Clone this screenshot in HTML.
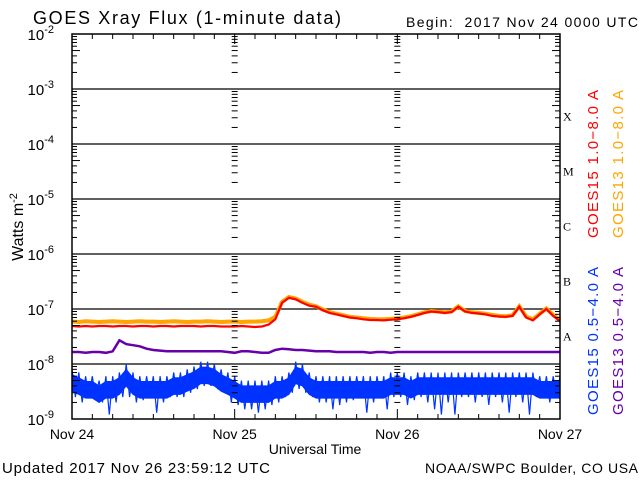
<!DOCTYPE html>
<html><head><meta charset="utf-8">
<style>
html,body{margin:0;padding:0;background:#fff;}
svg{display:block;font-family:"Liberation Sans","DejaVu Sans",sans-serif;}
</style></head>
<body>
<svg id="chart" width="640" height="480" viewBox="0 0 640 480">
<text x="33" y="24" font-size="18" textLength="308">GOES Xray Flux (1-minute data)</text>
<text x="406" y="27" font-size="14" textLength="232" xml:space="preserve">Begin:  2017 Nov 24 0000 UTC</text>
<text transform="translate(23,227) rotate(-90)" text-anchor="middle" font-size="16">Watts m<tspan dy="-6" font-size="11">-2</tspan></text>
<text x="315" y="454" text-anchor="middle" font-size="14">Universal Time</text>
<text x="2" y="473" font-size="15" textLength="268">Updated 2017 Nov 26 23:59:12 UTC</text>
<text x="638" y="473" text-anchor="end" font-size="14" textLength="213">NOAA/SWPC Boulder, CO USA</text>
<g font-size="15">
<text transform="translate(598,238) rotate(-90)" fill="#ff0000" textLength="148">GOES15 1.0−8.0 A</text>
<text transform="translate(623,238) rotate(-90)" fill="#ffa500" textLength="148">GOES13 1.0−8.0 A</text>
<text transform="translate(598,415) rotate(-90)" fill="#0033ff" textLength="148">GOES15 0.5−4.0 A</text>
<text transform="translate(623,415) rotate(-90)" fill="#6600aa" textLength="148">GOES13 0.5−4.0 A</text>
</g>
<g id="grid"></g>
<g id="series"></g>
<g id="axes"></g>
</svg>
<script>
const dayLabels = ["Nov 24","Nov 25","Nov 26","Nov 27"];
const decadeExps = [-2,-3,-4,-5,-6,-7,-8,-9];
const flareClasses = ["X","M","C","B","A"];
const flareExps = [-3.5,-4.5,-5.5,-6.5,-7.5];
// hourly values, hours 0..72
const goes15Long = [4.9e-8,4.8e-8,4.9e-8,4.8e-8,4.9e-8,4.9e-8,4.8e-8,4.9e-8,4.9e-8,4.8e-8,4.9e-8,4.9e-8,4.8e-8,4.9e-8,4.9e-8,4.8e-8,4.9e-8,4.9e-8,4.9e-8,4.8e-8,4.9e-8,4.9e-8,4.8e-8,4.8e-8,4.8e-8,4.9e-8,4.8e-8,4.7e-8,4.8e-8,5.2e-8,6.5e-8,1.3e-7,1.6e-7,1.5e-7,1.3e-7,1.15e-7,1.1e-7,9.5e-8,8.5e-8,8e-8,7.5e-8,7e-8,6.8e-8,6.5e-8,6.3e-8,6.3e-8,6.2e-8,6.4e-8,6.5e-8,6.8e-8,7.2e-8,7.8e-8,8.5e-8,9e-8,8.8e-8,8.5e-8,8.8e-8,1.1e-7,9e-8,8.5e-8,8.3e-8,8e-8,7.5e-8,7.3e-8,7.2e-8,7.5e-8,1.1e-7,7e-8,6.2e-8,8e-8,1e-7,7.5e-8,6e-8];
const goes13Long = [5.9e-8,5.8e-8,6e-8,5.9e-8,5.8e-8,5.9e-8,6e-8,5.9e-8,5.8e-8,5.9e-8,6e-8,5.9e-8,5.9e-8,5.8e-8,5.9e-8,6e-8,5.9e-8,5.8e-8,5.9e-8,5.9e-8,6e-8,5.9e-8,5.8e-8,5.9e-8,5.9e-8,5.8e-8,5.9e-8,5.9e-8,6e-8,6.2e-8,7.2e-8,1.35e-7,1.65e-7,1.55e-7,1.35e-7,1.2e-7,1.12e-7,9.8e-8,8.8e-8,8.2e-8,7.7e-8,7.2e-8,7e-8,6.8e-8,6.6e-8,6.5e-8,6.5e-8,6.6e-8,6.8e-8,7e-8,7.4e-8,8e-8,8.7e-8,9.2e-8,9e-8,8.7e-8,9e-8,1.12e-7,9.2e-8,8.7e-8,8.5e-8,8.2e-8,7.8e-8,7.5e-8,7.4e-8,7.7e-8,1.12e-7,7.3e-8,6.5e-8,8.2e-8,1.02e-7,7.8e-8,6.4e-8];
const goes13Short = [1.65e-8,1.65e-8,1.6e-8,1.65e-8,1.65e-8,1.6e-8,1.7e-8,2.7e-8,2.3e-8,2.2e-8,2.1e-8,1.9e-8,1.8e-8,1.75e-8,1.7e-8,1.7e-8,1.7e-8,1.7e-8,1.7e-8,1.7e-8,1.7e-8,1.7e-8,1.7e-8,1.65e-8,1.6e-8,1.7e-8,1.7e-8,1.65e-8,1.6e-8,1.6e-8,1.8e-8,1.9e-8,1.85e-8,1.8e-8,1.8e-8,1.75e-8,1.7e-8,1.7e-8,1.7e-8,1.65e-8,1.65e-8,1.65e-8,1.65e-8,1.65e-8,1.6e-8,1.65e-8,1.65e-8,1.6e-8,1.65e-8,1.65e-8,1.65e-8,1.65e-8,1.65e-8,1.65e-8,1.65e-8,1.65e-8,1.65e-8,1.65e-8,1.65e-8,1.65e-8,1.65e-8,1.65e-8,1.65e-8,1.65e-8,1.65e-8,1.65e-8,1.65e-8,1.65e-8,1.65e-8,1.65e-8,1.65e-8,1.65e-8,1.65e-8];
const goes15ShortHi = [8e-9,7e-9,6e-9,6e-9,5e-9,6e-9,6e-9,7e-9,1e-8,7e-9,6e-9,6e-9,6e-9,6e-9,6e-9,7e-9,7e-9,8e-9,9e-9,1.1e-8,1.1e-8,1e-8,8e-9,7e-9,6e-9,5e-9,5e-9,5e-9,5e-9,5e-9,6e-9,6e-9,7e-9,1.1e-8,1e-8,7e-9,6e-9,6e-9,6e-9,6e-9,6e-9,6e-9,6e-9,6e-9,6e-9,6e-9,6e-9,7e-9,7e-9,7e-9,6e-9,7e-9,7e-9,7e-9,7e-9,7e-9,7e-9,7e-9,7e-9,7e-9,7e-9,7e-9,7e-9,7e-9,7e-9,7e-9,7e-9,7e-9,7e-9,6e-9,6e-9,6e-9,6e-9];
const goes15ShortLo = [2.5e-9,2e-9,2.5e-9,2.5e-9,2e-9,1.2e-9,2e-9,2.5e-9,2.5e-9,2e-9,2.2e-9,2.5e-9,1.3e-9,2e-9,2.5e-9,2.5e-9,2.5e-9,3e-9,3.5e-9,4e-9,4e-9,3.5e-9,3e-9,2e-9,1.8e-9,1.5e-9,1.5e-9,1.3e-9,1.5e-9,1.8e-9,2e-9,2.5e-9,3e-9,3.5e-9,3e-9,2.5e-9,2e-9,2e-9,1.5e-9,1.8e-9,2e-9,2.2e-9,2.5e-9,1.3e-9,2e-9,2.5e-9,1.5e-9,2.5e-9,2.5e-9,1.8e-9,2.2e-9,2.5e-9,2e-9,1.5e-9,1.2e-9,2e-9,1.2e-9,2.5e-9,2.5e-9,2e-9,2.5e-9,1.8e-9,2.5e-9,2e-9,1.3e-9,2.5e-9,2e-9,1.2e-9,2.5e-9,2.5e-9,2e-9,2.5e-9,1.3e-9];

const NS='http://www.w3.org/2000/svg';
const X0=72, X1=560, YTOP=34, YBOT=419;
const xScale = h => X0 + (X1-X0)*h/72;
const yScale = v => YTOP + (-2 - Math.log10(v))*(YBOT-YTOP)/7;
const yExp = e => YTOP + (-2 - e)*(YBOT-YTOP)/7;
function mk(tag, attrs, parent){const e=document.createElementNS(NS,tag);for(const k in attrs)e.setAttribute(k,attrs[k]);parent.appendChild(e);return e;}
const gridG=document.getElementById('grid'), axesG=document.getElementById('axes'), seriesG=document.getElementById('series');

decadeExps.forEach(e=>{
  const y=yExp(e);
  if(e>-9 && e<-2){
    const l=mk('line',{x1:X0,x2:X1,y1:y,y2:y,stroke:'#000','stroke-width':1.3},gridG);
    
    
  }
  const t=mk('text',{x:54,y:y+6,'text-anchor':'end','font-size':15},axesG);
  t.textContent='10';
  
  
  const s=mk('tspan',{dy:-7,'font-size':11},t); s.textContent=String(e);
  if(e>-9){
    for(let m=2;m<=9;m++){
      const yy=yExp(e-1) - Math.log10(m)*(YBOT-YTOP)/7;
      const len=m===5?8:5;
      mk('line',{x1:X0,x2:X0+len,y1:yy,y2:yy,stroke:'#000'},axesG);
      mk('line',{x1:X1,x2:X1-len,y1:yy,y2:yy,stroke:'#000'},axesG);
      [1,2].forEach(d=>{const xd=xScale(24*d);mk('line',{x1:xd-3,x2:xd+3,y1:yy,y2:yy,stroke:'#000'},axesG);});
    }
  }
});
for(let h=0;h<=72;h+=3){
  const x=xScale(h), len=h%24===0?10:5;
  mk('line',{x1:x,x2:x,y1:YBOT,y2:YBOT-len,stroke:'#000'},axesG);
  mk('line',{x1:x,x2:x,y1:YTOP,y2:YTOP+len,stroke:'#000'},axesG);
}
dayLabels.forEach((d,i)=>{
  const x=xScale(24*i);
  const t=mk('text',{x:x,y:439,'text-anchor':'middle','font-size':14},axesG);
  t.textContent=d;
  
  
});
flareClasses.forEach((c,i)=>{
  const t=mk('text',{x:563,y:yExp(flareExps[i])+4,'font-size':12,'font-family':'Liberation Serif, serif'},axesG);
  t.textContent=c;
  
  
});
mk('rect',{x:X0,y:YTOP,width:X1-X0,height:YBOT-YTOP,fill:'none',stroke:'#000','stroke-width':1.5},axesG);

function linePath(arr){return arr.map((v,i)=>(i?'L':'M')+xScale(i).toFixed(1)+','+yScale(v).toFixed(1)).join('');}
function addLine(arr,color,name,w){
  const p=mk('path',{d:linePath(arr),fill:'none',stroke:color,'stroke-width':w},seriesG);
  
  
}
let bandTop='', bandBot='';
goes15ShortHi.forEach((v,i)=>{bandTop+=(i?'L':'M')+xScale(i).toFixed(1)+','+yScale(v*0.8).toFixed(1);});
for(let i=goes15ShortHi.length-1;i>=0;i--){bandBot+='L'+xScale(i).toFixed(1)+','+yScale(goes15ShortHi[i]*0.4).toFixed(1);}
const band=mk('path',{d:bandTop+bandBot+'Z',fill:'#0033ff',stroke:'#0033ff','stroke-width':1},seriesG);


let bd='';
goes15ShortHi.forEach((v,i)=>{
  bd+=(i?'L':'M')+xScale(i).toFixed(1)+','+yScale(v).toFixed(1);
  if(i<72){bd+='L'+xScale(i+0.5).toFixed(1)+','+yScale(goes15ShortLo[i]).toFixed(1);}
});
const bp=mk('path',{d:bd,fill:'none',stroke:'#0033ff','stroke-width':1.2},seriesG);


addLine(goes13Short,'#6600aa','goes13-short-series',2.5);
addLine(goes13Long,'#ffa500','goes13-long-series',4);
addLine(goes15Long,'#ff0000','goes15-long-series',2.2);
</script>
</body></html>
